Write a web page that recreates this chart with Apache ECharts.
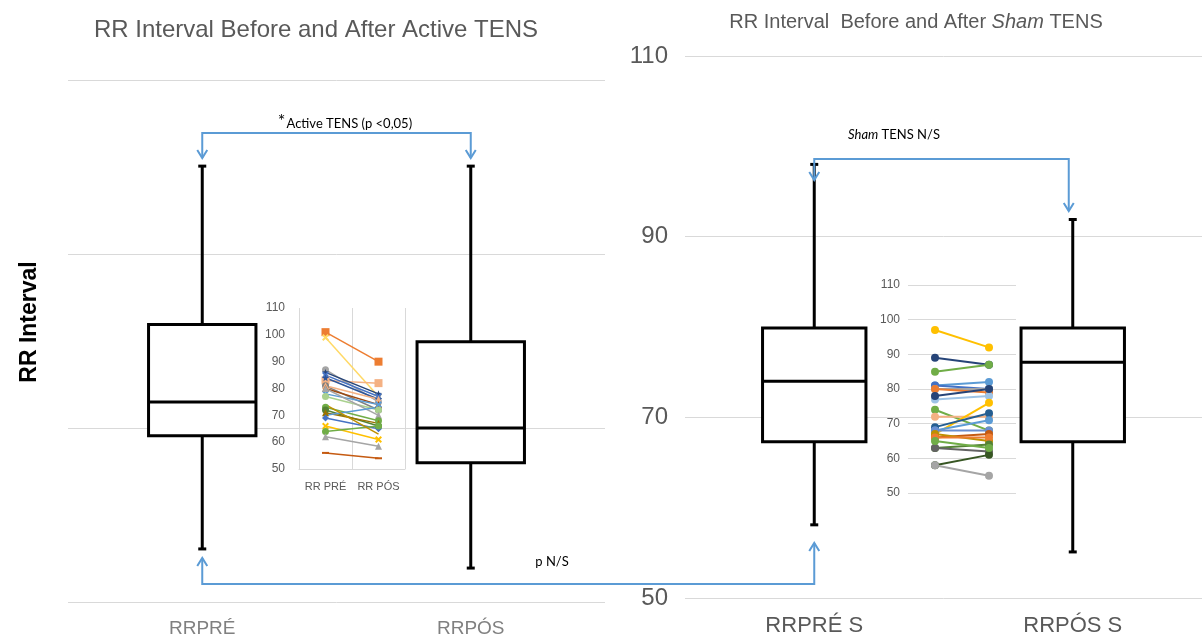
<!DOCTYPE html>
<html>
<head>
<meta charset="utf-8">
<script src="https://cdn.jsdelivr.net/npm/echarts@6/dist/echarts.min.js"></script>
<style>
  html, body { margin: 0; padding: 0; background: #fff; }
  #main { width: 1203px; height: 639px; }
</style>
</head>
<body>
<div id="main"></div>
<script>
// main box plots: [min, q1, median, q3, max]
var activeCats = ['RRPRÉ', 'RRPÓS'];
var activeBox = [[56.1, 69.1, 73.0, 81.9, 100.1], [53.9, 66.0, 70.0, 79.9, 100.1]];
var shamCats = ['RRPRÉ S', 'RRPÓS S'];
var shamBox = [[58.1, 67.3, 74.0, 79.9, 98.0], [55.1, 67.3, 76.1, 79.9, 91.9]];

// small inset charts, one pair (pre, post) per subject
var insetCats = ['RR PRÉ', 'RR PÓS'];
var activePairs = [
  [101, 90], [99, 77], [83, 82], [87, 75], [86, 78], [85, 77], [84, 76], [81, 72],
  [81, 76], [80, 74], [78, 74], [77, 72], [80, 70], [73, 68], [72, 66], [71, 67],
  [69, 65], [70, 73], [66, 61], [64, 66], [62, 58.5], [56, 54], [74, 63]
];
var activeColors = [
  '#ED7D31', '#FFD966', '#F4B183', '#A5A5A5', '#264478', '#4472C4', '#2F5597', '#7F7F7F',
  '#F4B183', '#9E480E', '#5B9BD5', '#A9D18E', '#A5A5A5', '#70AD47', '#548235', '#997300',
  '#4472C4', '#5B9BD5', '#FFC000', '#70AD47', '#A5A5A5', '#C55A11', '#BF9000'
];
var xMark = 'path://M0,2L2,0L5,3L8,0L10,2L7,5L10,8L8,10L5,7L2,10L0,8L3,5Z';
var starMark = 'path://M5,0L6.2,3.5L10,3.8L7,6.2L8,10L5,7.8L2,10L3,6.2L0,3.8L3.8,3.5Z';
var activeSymbols = [
  'rect', xMark, 'rect', 'circle', starMark, xMark, starMark, 'circle',
  'triangle', 'triangle', xMark, 'circle', 'triangle', 'circle', 'circle', 'triangle',
  'diamond', 'none', xMark, 'circle', 'triangle', 'rect', 'none'
];
var shamPairs = [
  [97, 92], [89, 87], [85, 87], [81, 82], [81, 80], [80, 80], [80, 79], [77, 78],
  [78, 80], [74, 68], [72, 72], [67, 76], [69, 73], [68, 71], [68, 68], [66, 67],
  [67, 65], [66, 66], [63, 64], [63, 62], [58, 61], [58, 55], [65, 63]
];
var shamColors = [
  '#FFC000', '#264478', '#70AD47', '#5B9BD5', '#4472C4', '#A5A5A5', '#ED7D31', '#9DC3E6',
  '#264478', '#70AD47', '#F4B183', '#FFC000', '#255E91', '#5B9BD5', '#698ED0', '#C55A11',
  '#BF9000', '#ED7D31', '#548235', '#636363', '#375623', '#A5A5A5', '#70AD47'
];

var chart = echarts.init(document.getElementById('main'));

function renderBox(params, api) {
  var x = api.value(0);
  var lo = api.coord([x, api.value(1)]);
  var q1 = api.coord([x, api.value(2)]);
  var md = api.coord([x, api.value(3)]);
  var q3 = api.coord([x, api.value(4)]);
  var hi = api.coord([x, api.value(5)]);
  var bw = api.size([1, 0])[0] * 0.4;
  var cap = 4;
  var st = { stroke: '#000', lineWidth: 3 };
  return {
    type: 'group',
    children: [
      { type: 'line', shape: { x1: hi[0], y1: hi[1], x2: q3[0], y2: q3[1] }, style: st },
      { type: 'line', shape: { x1: q1[0], y1: q1[1], x2: lo[0], y2: lo[1] }, style: st },
      { type: 'line', shape: { x1: hi[0] - cap, y1: hi[1], x2: hi[0] + cap, y2: hi[1] }, style: st },
      { type: 'line', shape: { x1: lo[0] - cap, y1: lo[1], x2: lo[0] + cap, y2: lo[1] }, style: st },
      { type: 'rect', shape: { x: q3[0] - bw / 2, y: q3[1], width: bw, height: q1[1] - q3[1] },
        style: { stroke: '#000', lineWidth: 3, fill: '#fff' } },
      { type: 'line', shape: { x1: md[0] - bw / 2, y1: md[1], x2: md[0] + bw / 2, y2: md[1] }, style: st }
    ]
  };
}

function boxData(rows) {
  return rows.map(function (r, i) { return [i].concat(r); });
}

var gridLine = { show: true, lineStyle: { color: '#d9d9d9', width: 1 } };
var font = 'Liberation Sans, Arial, sans-serif';

var series = [
  { type: 'custom', xAxisIndex: 0, yAxisIndex: 0, renderItem: renderBox, data: boxData(activeBox), z: 2 },
  { type: 'custom', xAxisIndex: 1, yAxisIndex: 1, renderItem: renderBox, data: boxData(shamBox), z: 2 }
];
activePairs.forEach(function (p, i) {
  var sym = activeSymbols[i];
  series.push({
    type: 'line', xAxisIndex: 2, yAxisIndex: 2, data: p, z: 5,
    symbol: sym, symbolSize: sym === 'rect' && i === 21 ? [7, 2] : (sym === 'rect' ? 8 : 7),
    showSymbol: sym !== 'none',
    lineStyle: { color: activeColors[i], width: 1.5 },
    itemStyle: { color: activeColors[i] }
  });
});
shamPairs.forEach(function (p, i) {
  series.push({
    type: 'line', xAxisIndex: 3, yAxisIndex: 3, data: p, z: 5,
    symbol: 'circle', symbolSize: 8,
    lineStyle: { color: shamColors[i], width: 2 },
    itemStyle: { color: shamColors[i] }
  });
});

chart.setOption({
  animation: false,
  backgroundColor: '#fff',
  textStyle: { fontFamily: font },
  grid: [
    { left: 68, width: 537, top: 80, height: 522 },
    { left: 685, width: 517, top: 56, height: 542 },
    { left: 299, width: 106, top: 308, height: 161 },
    { left: 908, width: 108, top: 285, height: 208 }
  ],
  xAxis: [
    { type: 'category', gridIndex: 0, data: activeCats,
      axisLine: { show: false }, axisTick: { show: false },
      axisLabel: { fontSize: 19, color: '#808080', margin: 17 } },
    { type: 'category', gridIndex: 1, data: shamCats,
      axisLine: { show: false }, axisTick: { show: false },
      axisLabel: { fontSize: 22, color: '#595959', margin: 17 } },
    { type: 'category', gridIndex: 2, data: insetCats,
      axisLine: { show: true, lineStyle: { color: '#d9d9d9' } }, axisTick: { show: false },
      splitLine: gridLine,
      axisLabel: { fontSize: 11, color: '#595959', margin: 12, interval: 0, hideOverlap: false } },
    { type: 'category', gridIndex: 3, data: insetCats,
      axisLine: { show: false }, axisTick: { show: false },
      axisLabel: { show: false } }
  ],
  yAxis: [
    { type: 'value', gridIndex: 0, min: 50, max: 110, interval: 20,
      axisLine: { show: false }, axisTick: { show: false },
      axisLabel: { show: false }, splitLine: gridLine },
    { type: 'value', gridIndex: 1, min: 50, max: 110, interval: 20,
      axisLine: { show: false }, axisTick: { show: false },
      axisLabel: { fontSize: 24, color: '#595959', margin: 17 }, splitLine: gridLine },
    { type: 'value', gridIndex: 2, min: 50, max: 110, interval: 10,
      axisLine: { show: false }, axisTick: { show: false },
      axisLabel: { fontSize: 12, color: '#595959', margin: 14 }, splitLine: { show: false } },
    { type: 'value', gridIndex: 3, min: 50, max: 110, interval: 10,
      axisLine: { show: false }, axisTick: { show: false },
      axisLabel: { fontSize: 12, color: '#595959', margin: 8 }, splitLine: gridLine }
  ],
  series: series
});

// annotations (titles, brackets with arrows)
var blue = '#5B9BD5';
function px(axis, idx, val) {
  return chart.convertToPixel({ xAxisIndex: axis, yAxisIndex: axis }, [idx, val]);
}
function arrowDown(x, y) {
  return { type: 'polyline', shape: { points: [[x - 5, y - 8], [x, y], [x + 5, y - 8]] },
    style: { stroke: blue, lineWidth: 2, fill: null }, z: 10 };
}
function arrowUp(x, y) {
  return { type: 'polyline', shape: { points: [[x - 5, y + 8], [x, y], [x + 5, y + 8]] },
    style: { stroke: blue, lineWidth: 2, fill: null }, z: 10 };
}
function path(points) {
  return { type: 'polyline', shape: { points: points },
    style: { stroke: blue, lineWidth: 2, fill: null }, z: 10 };
}

var aPre = px(0, 0, 100)[0], aPos = px(0, 1, 100)[0];
var sPre = px(1, 0, 100)[0], sPos = px(1, 1, 100)[0] - 4;

var annot = 'Lato, Open Sans, sans-serif';
chart.setOption({
  graphic: [
    { type: 'text', x: 316, y: 30, style: { text: 'RR Interval Before and After Active TENS',
      font: '24px ' + font, fill: '#595959', textAlign: 'center', textVerticalAlign: 'middle' } },
    { type: 'text', x: 916, y: 22, style: {
      text: '{a|RR Interval  Before and After }{b|Sham}{a| TENS}',
      rich: { a: { fontSize: 20, fontFamily: font, fill: '#595959' },
              b: { fontSize: 20, fontFamily: font, fill: '#595959', fontStyle: 'italic' } },
      textAlign: 'center', textVerticalAlign: 'middle' } },
    { type: 'text', x: 30, y: 322, rotation: Math.PI / 2, style: { text: 'RR Interval',
      font: 'bold 23px ' + font, fill: '#000', textAlign: 'center', textVerticalAlign: 'middle' } },

    path([[aPre, 158], [aPre, 133], [aPos, 133], [aPos, 158]]),
    arrowDown(aPre, 158), arrowDown(aPos, 158),
    { type: 'text', x: 345, y: 124, style: {
      text: '{s|*}{t|Active TENS (p <0,05)}',
      rich: { s: { fontSize: 18, fontFamily: annot, fill: '#000', verticalAlign: 'top', padding: [0, 1, 6, 0] },
              t: { fontSize: 13, fontFamily: annot, fill: '#000' } },
      textAlign: 'center', textVerticalAlign: 'middle' }, z: 10 },

    path([[sPre, 180], [sPre, 159], [sPos, 159], [sPos, 211]]),
    arrowDown(sPre, 180), arrowDown(sPos, 211),
    { type: 'text', x: 894, y: 135, style: {
      text: '{i|Sham} {t|TENS N/S}',
      rich: { i: { fontSize: 13, fontFamily: annot, fill: '#000', fontStyle: 'italic' },
              t: { fontSize: 13, fontFamily: annot, fill: '#000' } },
      textAlign: 'center', textVerticalAlign: 'middle' }, z: 10 },

    path([[aPre, 558], [aPre, 584], [sPre, 584], [sPre, 543]]),
    arrowUp(aPre, 558), arrowUp(sPre, 543),
    { type: 'text', x: 552, y: 562, style: { text: 'p N/S',
      font: '13px ' + annot, fill: '#000', textAlign: 'center', textVerticalAlign: 'middle' }, z: 10 }
  ]
});
</script>
</body>
</html>
